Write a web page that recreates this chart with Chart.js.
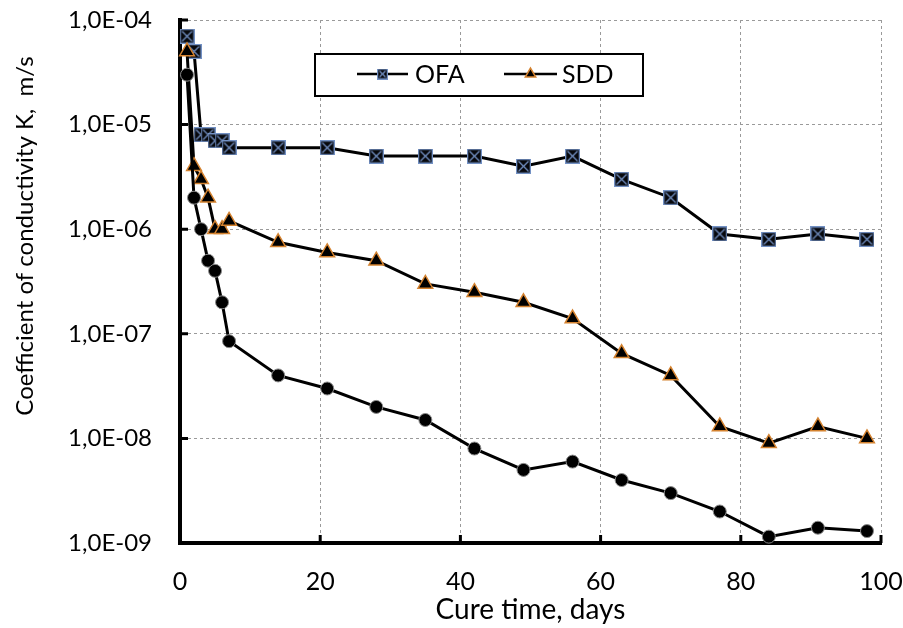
<!DOCTYPE html>
<html>
<head>
<meta charset="utf-8">
<script src="https://cdn.jsdelivr.net/npm/chart.js@4.4.1/dist/chart.umd.min.js"></script>
<style>
  html, body { margin: 0; padding: 0; background: #fff; }
  #wrap { width: 903px; height: 628px; }
</style>
</head>
<body>
<div id="wrap"><canvas id="chart" width="903" height="628"></canvas></div>
<script>
// --- DATA ---
const cureDays = [1, 2, 3, 4, 5, 6, 7, 14, 21, 28, 35, 42, 49, 56, 63, 70, 77, 84, 91, 98];
const ofaK = [7e-5, 5e-5, 8e-6, 8e-6, 7e-6, 7e-6, 6e-6, 6e-6, 6e-6, 5e-6, 5e-6, 5e-6, 4e-6, 5e-6, 3e-6, 2e-6, 9e-7, 8e-7, 9e-7, 8e-7];
const sddK = [5e-5, 4e-6, 3e-6, 2e-6, 1e-6, 1e-6, 1.2e-6, 7.5e-7, 6e-7, 5e-7, 3e-7, 2.5e-7, 2e-7, 1.4e-7, 6.5e-8, 4e-8, 1.3e-8, 9e-9, 1.3e-8, 1e-8];
const thirdK = [3e-5, 2e-6, 1e-6, 5e-7, 4e-7, 2e-7, 8.5e-8, 4e-8, 3e-8, 2e-8, 1.5e-8, 8e-9, 5e-9, 6e-9, 4e-9, 3e-9, 2e-9, 1.15e-9, 1.4e-9, 1.3e-9];
const yTicks = [1e-9, 1e-8, 1e-7, 1e-6, 1e-5, 1e-4];
const xTicks = [0, 20, 40, 60, 80, 100];
const xTitle = 'Cure time, days';
const yTitle = 'Coefficient of conductivity K,  m/s';

const FONT = 'Lato';

function toPoints(vals) {
    return vals.map((v, i) => ({ x: cureDays[i], y: v }));
}

// "1,0E-04" style labels
function sciLabel(v) {
    const e = Math.round(Math.log10(v));
    const sign = e < 0 ? '-' : '+';
    return '1,0E' + sign + String(Math.abs(e)).padStart(2, '0');
}

// square with a cross, like the OFA marker
function squareMarker(size) {
    const c = document.createElement('canvas');
    c.width = size; c.height = size;
    const g = c.getContext('2d');
    g.fillStyle = '#07080c';
    g.fillRect(0, 0, size, size);
    g.strokeStyle = '#7391c4';
    g.lineWidth = 1.3;
    g.strokeRect(0.65, 0.65, size - 1.3, size - 1.3);
    g.beginPath();
    g.moveTo(2.5, 2.5); g.lineTo(size - 2.5, size - 2.5);
    g.moveTo(size - 2.5, 2.5); g.lineTo(2.5, size - 2.5);
    g.stroke();
    return c;
}
const ofaMark = squareMarker(15);
const ofaMarkSmall = squareMarker(11);

// --- PLUGINS ---
const innerTicks = {
    id: 'innerTicks',
    beforeDatasetsDraw(chart) {
        const { ctx, chartArea: a, scales: { x, y } } = chart;
        ctx.save();
        ctx.strokeStyle = '#000';
        ctx.lineWidth = 3;
        ctx.beginPath();
        yTicks.forEach(v => {
            const py = y.getPixelForValue(v);
            ctx.moveTo(a.left, py); ctx.lineTo(a.left + 8, py);
        });
        xTicks.forEach(v => {
            const px = x.getPixelForValue(v);
            ctx.moveTo(px, a.bottom); ctx.lineTo(px, a.bottom - 8);
        });
        ctx.stroke();
        ctx.restore();
    }
};

const yTitlePlugin = {
    id: 'yTitle',
    afterDraw(chart) {
        const ctx = chart.ctx;
        ctx.save();
        ctx.translate(25, 236);
        ctx.rotate(-Math.PI / 2);
        ctx.font = '24px ' + FONT;
        ctx.fillStyle = '#000';
        ctx.textAlign = 'center';
        ctx.textBaseline = 'middle';
        ctx.fillText(yTitle, 0, 0);
        ctx.restore();
    }
};

const boxLegend = {
    id: 'boxLegend',
    afterDraw(chart) {
        const ctx = chart.ctx;
        ctx.save();
        ctx.fillStyle = '#fff';
        ctx.fillRect(315, 54, 328, 42);
        ctx.strokeStyle = '#000';
        ctx.lineWidth = 2;
        ctx.strokeRect(315, 54, 328, 42);

        const items = [
            { ds: chart.data.datasets[2], x0: 357, x1: 408, tx: 415, style: ofaMarkSmall, r: 5 },
            { ds: chart.data.datasets[1], x0: 504, x1: 557, tx: 562, style: 'triangle', r: 6 }
        ];
        const cy = 74;
        items.forEach(it => {
            ctx.strokeStyle = '#000';
            ctx.lineWidth = 2.5;
            ctx.beginPath();
            ctx.moveTo(it.x0, cy); ctx.lineTo(it.x1, cy);
            ctx.stroke();
            ctx.fillStyle = it.ds.pointBackgroundColor;
            ctx.strokeStyle = it.ds.pointBorderColor;
            ctx.lineWidth = 1.5;
            Chart.helpers.drawPoint(ctx, { pointStyle: it.style, radius: it.r, borderWidth: 1.5, rotation: 0 }, (it.x0 + it.x1) / 2, cy);
            ctx.fillStyle = '#000';
            ctx.font = '25px ' + FONT;
            ctx.textAlign = 'left';
            ctx.textBaseline = 'middle';
            ctx.fillText(it.ds.label, it.tx, cy + 1);
        });
        ctx.restore();
    }
};

// --- CHART ---
const ctx = document.getElementById('chart').getContext('2d');
new Chart(ctx, {
    type: 'line',
    data: {
        datasets: [
            {
                label: '', data: toPoints(thirdK),
                borderColor: '#000', borderWidth: 3,
                pointStyle: 'circle', pointRadius: 6.5,
                pointBackgroundColor: '#000', pointBorderColor: '#8a8a8a', pointBorderWidth: 1,
                tension: 0, fill: false, clip: false
            },
            {
                label: 'SDD', data: toPoints(sddK),
                borderColor: '#000', borderWidth: 3,
                pointStyle: 'triangle', pointRadius: 8.5,
                pointBackgroundColor: '#000', pointBorderColor: '#d4822f', pointBorderWidth: 1.5,
                tension: 0, fill: false, clip: false
            },
            {
                label: 'OFA', data: toPoints(ofaK),
                borderColor: '#000', borderWidth: 3,
                pointStyle: ofaMark, pointRadius: 7.5,
                pointBackgroundColor: '#07080c', pointBorderColor: '#7391c4', pointBorderWidth: 1.3,
                tension: 0, fill: false, clip: false
            }
        ]
    },
    options: {
        responsive: false,
        animation: false,
        layout: { padding: { top: 20, right: 22, left: 0, bottom: 0 } },
        plugins: { legend: { display: false }, tooltip: { enabled: false } },
        scales: {
            x: {
                type: 'linear', min: 0, max: 100,
                afterBuildTicks: s => { s.ticks = xTicks.map(v => ({ value: v })); },
                afterFit: s => { s.height = 85; s.paddingLeft = 0; s.paddingRight = 0; },
                ticks: { color: '#000', font: { family: FONT, size: 25 }, padding: 24, maxRotation: 0 },
                grid: { color: '#9a9a9a', lineWidth: 1, drawTicks: false },
                border: { color: '#000', width: 4, dash: [3, 3] },
                title: { display: true, text: xTitle, color: '#000', font: { family: FONT, size: 28 }, padding: { top: 0, bottom: 1 } }
            },
            y: {
                type: 'logarithmic', min: 1e-9, max: 1e-4,
                afterBuildTicks: s => { s.ticks = yTicks.map(v => ({ value: v })); },
                afterFit: s => { s.width = 180; s.paddingTop = 0; s.paddingBottom = 0; },
                ticks: { color: '#000', font: { family: FONT, size: 24 }, padding: 28, callback: v => sciLabel(v) },
                grid: { color: '#9a9a9a', lineWidth: 1, drawTicks: false },
                border: { color: '#000', width: 4, dash: [3, 3] }
            }
        }
    },
    plugins: [innerTicks, yTitlePlugin, boxLegend]
});
</script>
</body>
</html>
